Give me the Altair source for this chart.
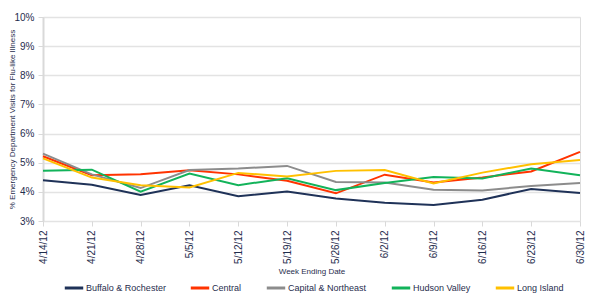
import altair as alt
import pandas as pd

weeks = ["4/14/12", "4/21/12", "4/28/12", "5/5/12", "5/12/12", "5/19/12",
         "5/26/12", "6/2/12", "6/9/12", "6/16/12", "6/23/12", "6/30/12"]

regions = ["Buffalo & Rochester", "Central", "Capital & Northeast",
           "Hudson Valley", "Long Island"]
colors = ["#1F3258", "#FF3300", "#8C8C8C", "#12B35A", "#FFC000"]

buffalo_rochester = [4.40, 4.24, 3.89, 4.23, 3.85, 4.01, 3.77, 3.63, 3.55, 3.73, 4.10, 3.96]
central = [5.22, 4.57, 4.60, 4.74, 4.60, 4.38, 3.95, 4.59, 4.32, 4.49, 4.70, 5.37]
capital_northeast = [5.31, 4.60, 4.13, 4.75, 4.80, 4.89, 4.34, 4.32, 4.07, 4.05, 4.20, 4.30]
hudson_valley = [4.72, 4.76, 4.01, 4.63, 4.23, 4.47, 4.06, 4.30, 4.51, 4.46, 4.80, 4.57]
long_island = [5.15, 4.49, 4.23, 4.15, 4.65, 4.53, 4.72, 4.75, 4.29, 4.66, 4.95, 5.09]

series = [buffalo_rochester, central, capital_northeast, hudson_valley, long_island]

rows = []
for name, vals in zip(regions, series):
    for w, v in zip(weeks, vals):
        rows.append({"week": w, "region": name, "pct": v / 100.0})
df = pd.DataFrame(rows)

label_color = "#1F2D4D"
font = "Liberation Sans"

chart = alt.Chart(df).mark_line(strokeWidth=2).encode(
    x=alt.X("week:O", sort=weeks,
            scale=alt.Scale(padding=0),
            axis=alt.Axis(title="Week Ending Date", labelAngle=-90,
                          labelFontSize=10, labelColor=label_color,
                          labelFont=font, labelPadding=4,
                          titleFont=font, titleFontSize=8,
                          titleFontWeight="normal", titleColor=label_color,
                          titlePadding=4,
                          domain=False, tickColor="#D9D9D9", tickSize=5,
                          grid=False)),
    y=alt.Y("pct:Q",
            scale=alt.Scale(domain=[0.03, 0.10], nice=False, zero=False),
            axis=alt.Axis(title="% Emergency  Department Visits for Flu-like Illness",
                          format=".0%", values=[0.03, 0.04, 0.05, 0.06, 0.07, 0.08, 0.09, 0.10],
                          labelFontSize=10, labelColor=label_color, labelFont=font,
                          labelPadding=4,
                          titleFont=font, titleFontSize=8, titleFontWeight="normal",
                          titleColor=label_color,
                          titleX=-31, titleY=102, titleAngle=-90,
                          titleAlign="center", titleBaseline="middle",
                          domainColor="#D9D9D9", domainWidth=2,
                          tickColor="#D9D9D9", tickSize=5,
                          gridColor="#E3E3E3", gridWidth=1.5)),
    color=alt.Color("region:N", sort=regions,
                    scale=alt.Scale(domain=regions, range=colors),
                    legend=alt.Legend(title=None, orient="none",
                                      legendX=20, legendY=260,
                                      direction="horizontal", columns=5,
                                      symbolType="stroke", symbolSize=340,
                                      symbolStrokeWidth=3,
                                      labelFont=font, labelFontSize=9,
                                      labelColor=label_color,
                                      labelOffset=1, columnPadding=18)),
).properties(
    width=537,
    height=204,
    padding={"left": 43, "top": 17, "right": 20, "bottom": 79},
    autosize=alt.AutoSizeParams(type="none"),
).configure_view(stroke=None).configure(background="white")

chart.save("out.html", embed_options={"renderer": "svg", "actions": False})
